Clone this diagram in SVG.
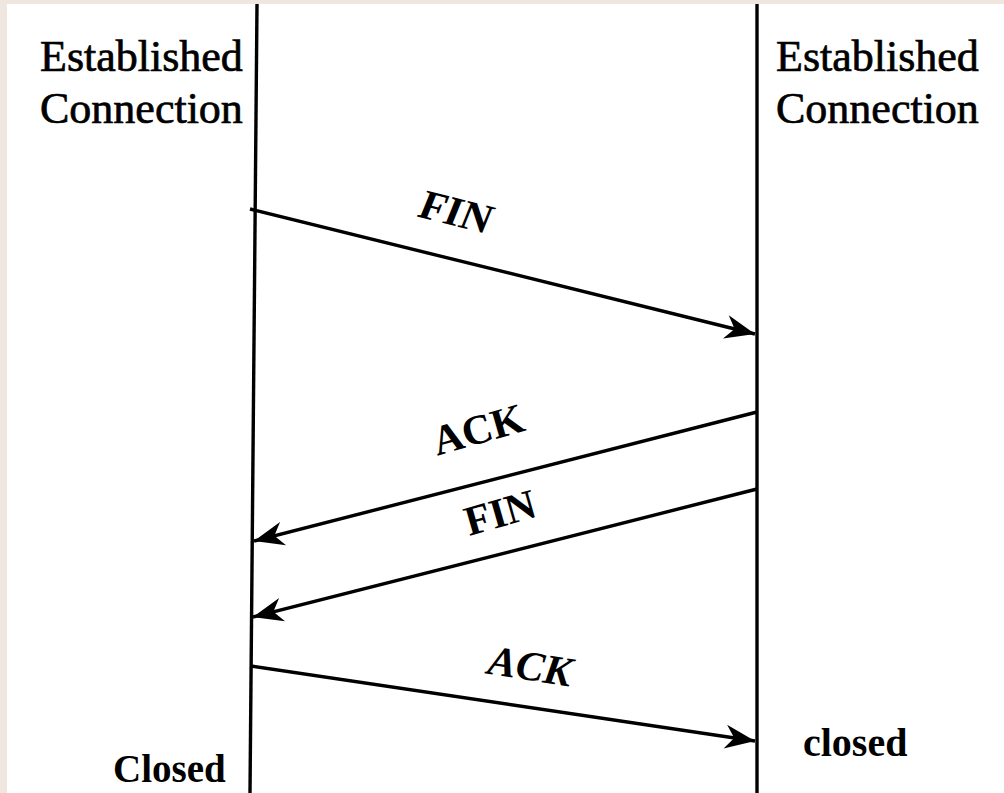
<svg xmlns="http://www.w3.org/2000/svg" width="1004" height="793" viewBox="0 0 1004 793">
  <style>
    .life { stroke: #000; stroke-width: 3.4; fill: none; }
    .msg { stroke: #000; stroke-width: 3.4; fill: none; marker-end: url(#head); }
    .state { font-family: "Liberation Serif", serif; font-size: 44px; fill: #000; stroke: #000; stroke-width: 0.7; }
    .lbl { font-family: "Liberation Serif", serif; font-size: 42px; font-weight: bold; fill: #000; text-anchor: middle; }
    .end { font-family: "Liberation Serif", serif; font-weight: bold; fill: #000; }
  </style>
  <defs>
    <marker id="head" markerUnits="userSpaceOnUse" viewBox="-32 -14 34 28" refX="0" refY="0" markerWidth="34" markerHeight="28" orient="auto">
      <path d="M0,0 L-30,-12 L-21,0 L-30,12 Z" fill="#000"/>
    </marker>
  </defs>

  <!-- page backdrop with thin tinted margin -->
  <rect x="0" y="0" width="1004" height="793" fill="#efe6e0"/>
  <rect x="7" y="4" width="997" height="789" fill="#fff"/>

  <!-- lifelines -->
  <g id="client">
    <line class="life" x1="257" y1="4" x2="250" y2="793"/>
    <text class="state" x="40" y="71">Established</text>
    <text class="state" x="40" y="123">Connection</text>
    <text class="end" x="113" y="782" font-size="39">Closed</text>
  </g>
  <g id="server">
    <line class="life" x1="757" y1="4" x2="757" y2="793"/>
    <text class="state" x="776" y="71">Established</text>
    <text class="state" x="776" y="123">Connection</text>
    <text class="end" x="803" y="756" font-size="40">closed</text>
  </g>

  <!-- messages -->
  <g id="connectors">
    <line class="msg" x1="250" y1="209" x2="755" y2="334"/>
    <line class="msg" x1="757" y1="412" x2="254" y2="541"/>
    <line class="msg" x1="757" y1="489" x2="253" y2="617"/>
    <line class="msg" x1="251" y1="666" x2="755" y2="741"/>
  </g>

  <g id="labels">
    <text class="lbl" transform="translate(451,225) rotate(14) skewX(-8)">FIN</text>
    <text class="lbl" font-size="44" transform="translate(482,443) rotate(-16)">ACK</text>
    <text class="lbl" transform="translate(504,526) rotate(-16)">FIN</text>
    <text class="lbl" font-size="44" font-style="italic" transform="translate(528,680) rotate(9)">ACK</text>
  </g>
</svg>
